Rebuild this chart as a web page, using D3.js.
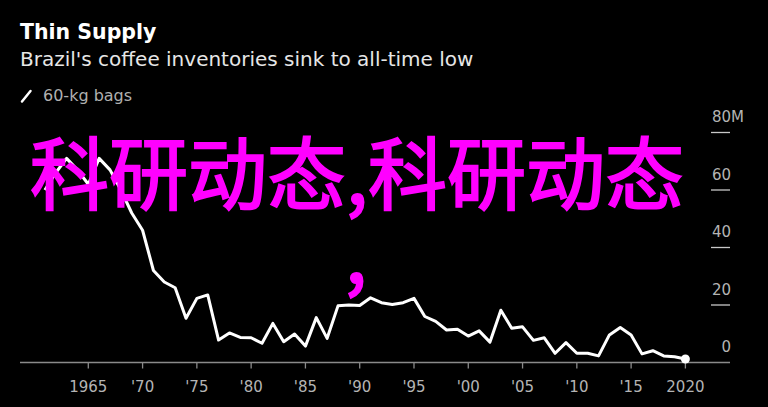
<!DOCTYPE html>
<html><head><meta charset="utf-8">
<script src="https://cdn.jsdelivr.net/npm/d3@7"></script>
<style>html,body{margin:0;padding:0;background:#000;overflow:hidden}</style>
</head><body>
<script>
const years = d3.range(1961, 2021);
const inventories = [60,66,71,67,62,71,67,60,52,46,32,28,26,15.4,22.3,23.5,7.8,10.3,8.7,8.6,6.7,13.6,7.2,9.9,5.7,15.6,8.4,19.7,20,19.8,22.5,20.8,20.2,20.8,22.3,16,14.3,11.3,11.6,9.2,11,7.1,18.2,11.9,12.4,7.7,8.6,3.2,6.9,3.2,3.2,2.3,9.6,12.2,9.6,3,4.1,2.3,2,1.2];
const xTickYears = [1965,1970,1975,1980,1985,1990,1995,2000,2005,2010,2015,2020];
const xTickLabels = ["1965","'70","'75","'80","'85","'90","'95","'00","'05","'10","'15","2020"];
const yTickValues = [0,20,40,60,80];
const yTickLabels = ["0","20","40","60","80"];
const titleText = "Thin Supply";
const subtitleText = "Brazil's coffee inventories sink to all-time low";
const legendText = "60-kg bags";
const overlayText = "科研动态,科研动态";

const W = 768, H = 407;
const svg = d3.select("body").append("svg").attr("width", W).attr("height", H).style("background","#000");
const font = "'DejaVu Sans', Verdana, sans-serif";

const x = d3.scaleLinear().domain([1965, 2020]).range([88.3, 685.4]);
const y = d3.scaleLinear().domain([0, 80]).range([362.5, 132.5]);

// header
svg.append("text").attr("x", 20).attr("y", 39).attr("fill", "#fff").attr("font-family", font)
  .attr("font-weight", "bold").attr("font-size", 20.5).text(titleText);
svg.append("text").attr("x", 20).attr("y", 66).attr("fill", "#e6e6e6").attr("font-family", font)
  .attr("font-size", 20).text(subtitleText);
svg.append("line").attr("x1", 22).attr("y1", 101.5).attr("x2", 30.5).attr("y2", 91)
  .attr("stroke", "#fff").attr("stroke-width", 2.5).attr("stroke-linecap", "round");
svg.append("text").attr("x", 43).attr("y", 101).attr("fill", "#b0b0b0").attr("font-family", font)
  .attr("font-size", 16).text(legendText);

// baseline
svg.append("line").attr("x1", 20).attr("x2", 730).attr("y1", y(0)).attr("y2", y(0))
  .attr("stroke", "#8a8a8a").attr("stroke-width", 1.5);
// x ticks
const xg = svg.append("g");
xTickYears.forEach((yr, i) => {
  xg.append("line").attr("x1", x(yr)).attr("x2", x(yr)).attr("y1", y(0)).attr("y2", y(0) + 6)
    .attr("stroke", "#8a8a8a").attr("stroke-width", 1.3);
  xg.append("text").attr("x", x(yr)).attr("y", 392).attr("text-anchor", "middle")
    .attr("fill", "#b4b4b4").attr("font-family", font).attr("font-size", 15).text(xTickLabels[i]);
});
// y ticks
const yg = svg.append("g");
yTickValues.forEach((v, i) => {
  if (v !== 0) {
    yg.append("line").attr("x1", 711).attr("x2", 730).attr("y1", y(v)).attr("y2", y(v))
      .attr("stroke", "#c8c8c8").attr("stroke-width", 1.3);
  }
  yg.append("text").attr("x", 731).attr("y", y(v) - 10.5).attr("text-anchor", "end")
    .attr("fill", "#b4b4b4").attr("font-family", font).attr("font-size", 15).text(yTickLabels[i]);
  if (v === 80) {
    yg.append("text").attr("x", 731).attr("y", y(v) - 10.5)
      .attr("fill", "#b4b4b4").attr("font-family", font).attr("font-size", 15).text("M");
  }
});

// line
const data = years.map((yr, i) => ({yr, v: inventories[i]}));
svg.append("path").datum(data).attr("fill", "none").attr("stroke", "#fff").attr("stroke-width", 3)
  .attr("stroke-linejoin", "round")
  .attr("d", d3.line().x(d => x(d.yr)).y(d => y(d.v)));
const last = data[data.length - 1];
svg.append("circle").attr("cx", x(last.yr)).attr("cy", y(last.v)).attr("r", 4.5).attr("fill", "#fff");

// overlay text
svg.append("text").attr("x", 30).attr("y", 204).attr("fill", "#ff00ff")
  .attr("stroke", "#ff00ff").attr("stroke-width", 2).attr("stroke-linejoin", "miter")
  .attr("font-family", "'Noto Sans CJK SC', sans-serif").attr("font-size", 79).text(overlayText);
svg.append("text").attr("x", 345).attr("y", 283).attr("fill", "#ff00ff")
  .attr("stroke", "#ff00ff").attr("stroke-width", 2)
  .attr("font-family", "'Noto Sans CJK SC', sans-serif").attr("font-size", 79).text(",");
</script>
</body></html>
